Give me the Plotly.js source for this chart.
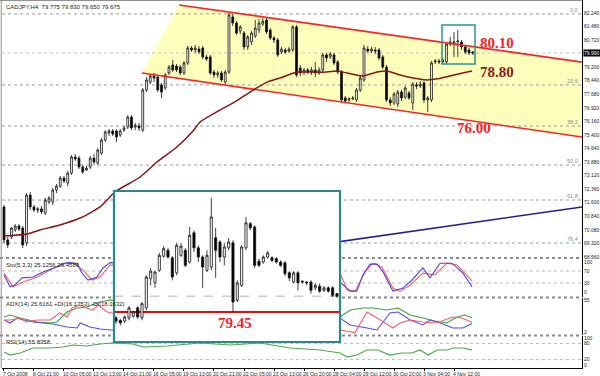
<!DOCTYPE html>
<html><head><meta charset="utf-8">
<script src="https://cdn.plot.ly/plotly-3.0.1.min.js"></script>
<style>html,body{margin:0;padding:0;background:#fff;}#chart{width:600px;height:376px;}</style>
</head><body><div id="chart"></div>
<script>
// ---------------- DATA ----------------
const chartTitle = "CADJPY,H4  79.775 79.830 79.650 79.675";
const barOpen = [71.36,69.51,69.68,70.07,70.29,70.18,69.34,72.03,71.36,71.19,
71.25,71.02,71.64,71.64,72.31,72.53,72.98,72.70,73.26,74.16,
74.10,73.60,73.43,73.60,74.10,73.82,74.38,75.11,75.51,75.62,
75.62,75.39,75.67,75.84,76.40,75.84,75.90,75.67,77.92,78.36,
78.70,78.64,78.20,78.03,78.87,79.32,79.26,79.20,78.87,79.43,
80.27,80.16,80.21,80.27,79.77,79.77,78.92,78.76,78.87,78.36,
78.92,82.01,81.67,81.22,81.11,80.33,80.61,80.94,81.28,81.61,
81.84,81.28,80.83,80.72,80.05,80.16,80.10,80.16,81.45,79.15,
78.92,79.04,78.92,79.04,78.87,79.04,79.88,79.77,79.88,79.49,
78.92,77.47,77.36,77.41,77.36,77.92,78.48,80.21,80.10,80.16,
80.16,79.77,79.20,77.36,77.19,77.13,77.80,77.52,77.75,77.19,
78.20,78.14,78.31,77.36,77.36,79.49,79.54,79.49,79.49,80.49,
80.55,80.61,80.61,80.33,80.16,80.05];
const barHigh = [71.47,69.68,70.24,70.40,70.40,70.29,72.14,72.20,71.47,71.36,
71.41,71.86,71.97,72.42,72.65,73.10,73.10,73.38,74.27,74.33,
74.22,73.71,73.66,74.22,74.33,74.66,75.23,75.67,75.73,75.73,
75.73,75.73,75.90,76.51,76.51,76.07,76.07,78.03,78.64,78.81,
78.87,78.76,78.31,78.87,79.32,79.60,79.37,79.32,79.54,80.38,
80.38,80.44,80.38,80.38,79.88,79.88,79.04,78.98,78.98,79.04,
82.23,82.18,81.78,81.56,81.22,81.00,81.22,81.84,81.90,81.95,
81.95,81.39,80.94,80.83,80.33,80.27,80.33,81.56,81.56,79.32,
79.15,79.15,79.20,79.49,79.20,79.99,79.99,80.05,79.99,79.60,
79.04,77.58,77.52,77.58,78.03,78.70,80.44,80.38,80.33,80.33,
80.27,79.88,79.32,77.52,77.80,77.92,77.92,78.14,77.86,78.36,
78.36,78.42,78.42,77.58,79.54,79.65,79.65,79.71,80.61,80.89,
81.17,81.28,80.72,80.44,80.27,80.10];
const barLow = [69.34,69.06,69.56,69.96,70.01,69.06,69.17,71.19,71.08,71.02,
70.97,70.91,71.53,71.47,72.14,72.42,72.70,72.53,73.15,73.94,
73.49,73.21,73.38,73.49,73.77,73.71,74.27,75.00,75.34,75.34,
75.00,75.28,75.56,75.73,75.67,75.67,75.62,75.56,77.80,78.25,
78.36,77.80,77.47,77.92,78.76,78.92,78.92,78.76,78.76,79.32,
80.05,79.99,79.93,79.65,79.54,78.76,78.59,78.59,78.36,78.25,
78.81,81.50,81.00,81.05,80.16,80.16,80.44,80.83,81.11,81.50,
81.05,80.72,80.55,79.77,79.93,79.93,79.99,80.05,78.64,78.70,
78.76,78.81,78.76,78.64,78.76,78.92,79.49,79.65,79.32,78.81,
77.24,77.19,77.24,77.36,77.24,77.80,78.36,79.99,79.99,79.93,
79.60,79.09,77.24,77.02,77.07,76.96,77.30,77.41,77.36,76.79,
77.97,78.03,77.19,76.68,77.24,79.37,79.37,79.37,79.37,80.38,
79.77,79.77,80.16,79.93,79.88,79.88];
const barClose = [69.51,69.23,70.18,70.29,70.12,69.23,72.03,71.36,71.19,71.25,
71.08,71.75,71.86,72.31,72.53,72.98,72.81,73.26,74.16,74.05,
73.60,73.32,73.54,74.10,73.88,74.55,75.11,75.56,75.62,75.45,
75.28,75.62,75.79,76.40,75.79,75.95,75.79,77.92,78.48,78.70,
78.59,77.92,77.80,78.76,79.20,79.04,79.04,78.87,79.43,80.27,
80.16,80.27,80.05,79.77,79.65,78.87,78.76,78.87,78.48,78.92,
82.12,81.67,81.11,81.45,80.33,80.89,81.11,81.39,81.67,81.78,
81.17,80.83,80.72,79.88,80.21,80.05,80.21,81.45,78.76,78.87,
79.04,78.92,79.04,78.87,79.04,79.88,79.71,79.93,79.43,78.92,
77.36,77.30,77.41,77.47,77.92,78.59,80.27,80.10,80.21,80.10,
79.71,79.20,77.36,77.19,77.69,77.80,77.47,78.03,77.47,78.25,
78.14,78.25,77.36,77.47,79.43,79.54,79.49,79.60,80.49,80.61,
80.61,80.66,80.33,80.05,79.99,79.99];

const maX = [0,6.1,9.6,14.9,20.3,25.6,29.6,36.3,40.8,46.1,50.4,52.3,57.6,61.1,65.6,70.1,73.6,78.1,81.6,86.1,88.8,91.5,95.7,99.5,102.1,105.6,109.1,112.8,115.5,118.9,123.5,124.8];
const maY = [69.73,69.84,70.07,70.35,70.74,71.36,72.20,73.04,73.88,74.72,75.62,76.12,76.79,77.19,77.80,78.36,78.59,78.92,78.92,78.92,78.98,78.87,78.70,78.92,78.98,78.76,78.59,78.48,78.54,78.70,78.92,78.98];

const channelUpperX = [46.7, 154.13];
const channelUpperY = [82.68, 79.48];
const channelLowerX = [36.8, 154.13];
const channelLowerY = [78.87, 75.28];
const trendX = [70, 154.13];
const trendY = [68.83, 71.36];

const fibLevels = [82.18, 78.20, 75.90, 73.71, 71.75, 69.34];
const fibLabels = ["0.0", "23.6", "38.2", "50.0", "61.8", "76.4"];
const priceTicks = [68.56,69.32,70.08,70.84,71.60,72.36,73.12,73.88,74.64,75.40,76.16,76.92,77.68,78.44,79.20,79.96,80.72,81.48,82.24];

const dateTicks = [0,8,16,24,32,40,48,56,64,72,80,88,96,104,112,120];
const dateLabels = ["7 Oct 2008","8 Oct 21:00","10 Oct 05:00","13 Oct 13:00","14 Oct 21:00","16 Oct 05:00","19 Oct 13:00","20 Oct 21:00","22 Oct 05:00","23 Oct 13:00","26 Oct 20:00","28 Oct 04:00","29 Oct 12:00","30 Oct 20:00","3 Nov 04:00","4 Nov 12:00"];

const zoomBoxX = [116.8, 125.6];
const zoomBoxY = [79.37, 81.56];

const levelLabels = ["80.10", "78.80", "76.00"];
const levelLabelX = [126.4, 126.4, 120.3];
const levelLabelY = [80.55, 78.92, 75.79];

// Stochastic
const stochMainX = [0,1.6,2.9,4.8,7.7,10.4,14.1,16.8,19.5,20.8,22.4,24.8,26.4,28.3,89.6,92.3,94.1,95.7,97.6,99.5,101.1,103.7,106.4,108.8,111.7,113.6,116.3,119.5,122.4,124.8];
const stochMainY = [57,17,23,47,50,67,83,98,95,63,40,50,80,98,33,3,3,57,93,93,67,3,13,40,80,47,96,96,63,17];
const stochSigX = [0,2.4,5.1,8.8,12.3,15.7,18.4,21.1,23.5,25.6,28.3,89.6,91.5,93.6,96.3,98.4,100.8,103.7,105.6,108.3,111.7,114.9,118.1,120.8,124.8];
const stochSigY = [63,17,33,50,73,96,98,73,40,50,90,63,7,2,67,96,83,13,2,23,63,57,96,90,37];
// ADX
const adxX = [0,1.6,4.3,8.8,12.3,14.1,16.8,19.5,22.1,25.6,28.3,89.6,92.3,95.7,98.4,102.1,105.1,108.3,111.7,114.9,118.1,120.8,122.9,124.8];
const adxY = [26.8,30.2,25.2,18.6,16.9,18.6,35.1,41.7,43.4,51.7,55.0,26.8,38.4,41.7,41.7,38.4,41.7,30.2,25.2,20.2,16.9,26.8,30.2,25.6];
const plusDiX = [0,1.6,3.5,5.1,7.7,10.4,13.1,16.8,19.5,20.3,22.9,25.6,28.3,89.6,92.3,96.8,99.5,102.9,105.1,108.3,111.7,113.6,116.3,119.7,122.4,124.8];
const plusDiY = [21.9,16.9,25.2,21.9,18.6,16.9,15.2,10.3,8.6,16.9,10.3,7.0,5.3,25.2,13.6,8.6,5.3,33.5,35.1,21.9,13.6,21.9,16.9,8.6,8.6,16.2];
const minusDiX = [0,1.6,4.3,6.1,8.8,12.3,14.9,16.8,18.1,20.3,22.1,23.7,25.1,27.5,28.8,89.6,93.6,96.8,99.5,103.7,105.6,108.3,111.7,115.5,119.5,122.1,124.8];
const minusDiY = [21.9,21.9,25.2,18.6,21.9,21.9,33.5,26.8,41.7,46.7,41.7,38.4,46.7,35.1,33.5,5.3,1.0,35.1,25.2,8.6,16.9,21.9,18.6,16.9,26.8,25.2,18.2];
// RSI
const rsiX = [0,1.6,4.3,7.7,12.3,15.7,18.4,22.1,25.6,29.1,34.4,37.1,43.5,48.8,52.3,60.3,68.3,76.3,84.3,89.6,91.5,94.1,96.8,99.7,102.9,106.1,108.8,110.9,113.1,115.5,118.1,119.7,122.4,124.8];
const rsiY = [48.1,37.0,44.4,63.0,63.0,66.7,74.1,70.4,77.8,81.5,77.8,66.7,70.4,77.8,81.5,74.1,81.5,63.0,55.6,44.4,29.6,37.0,55.6,55.6,37.0,44.4,44.4,55.6,37.0,55.6,55.6,63.0,63.0,55.8];

const stochLabel = "Sto(5,3,3) 25.1256 29.4589";
const adxLabel = "ADX(14) 25.6161 +DI(16.1753) -DI(18.1632)";
const rsiLabel = "RSI(14) 55.8358";

// Inset (zoomed view)
const insetOpen = [79.38,79.35,79.34,79.38,79.40,79.50,79.38,79.50,79.85,79.80,79.95,80.12,80.19,80.10,79.92,80.13,80.19,80.05,80.40,80.22,80.11,79.95,79.99,80.34,80.29,80.11,80.22,80.28,79.59,79.77,80.22,80.51,80.47,80.06,80.05,80.11,80.10,80.09,80.05,80.04,79.92,79.81,79.92,79.82,79.81,79.81,79.74,79.76,79.71,79.74,79.74,79.67];
const insetHigh = [79.40,79.37,79.41,79.52,79.46,79.52,79.57,79.89,79.98,79.95,80.16,80.24,80.22,80.12,80.28,80.28,80.22,80.47,80.43,80.25,80.13,80.19,80.82,80.46,80.31,80.28,80.34,80.31,79.83,80.25,80.59,80.53,80.49,80.09,80.13,80.18,80.12,80.11,80.07,80.06,79.94,79.94,79.94,79.83,79.82,79.83,79.80,79.79,79.76,79.76,79.76,79.68];
const insetLow = [79.31,79.29,79.32,79.35,79.38,79.37,79.35,79.47,79.77,79.74,79.93,80.10,80.09,79.83,79.89,80.11,79.99,80.03,80.17,80.05,79.74,79.93,79.95,79.86,80.05,80.01,80.19,79.45,79.57,79.75,80.19,80.43,79.98,79.99,80.03,80.09,80.05,80.03,79.99,79.88,79.82,79.79,79.71,79.79,79.77,79.67,79.71,79.68,79.69,79.68,79.63,79.62];
const insetClose = [79.34,79.32,79.39,79.50,79.45,79.39,79.55,79.87,79.94,79.93,80.13,80.21,80.11,79.87,80.25,80.24,80.01,80.37,80.22,80.11,79.99,80.13,80.59,80.19,80.11,80.23,80.29,79.57,79.80,80.23,80.52,80.46,80.01,80.01,80.11,80.16,80.07,80.05,80.01,79.91,79.86,79.92,79.80,79.81,79.80,79.71,79.77,79.70,79.74,79.70,79.65,79.64];
const insetSupport = 79.45;
const insetSupportLabel = "79.45";

// ---------------- BUILD ----------------
const X0 = -0.533, X1 = 154.13;
const IX0 = -0.46, IX1 = 51.7, IY0 = 79.09, IY1 = 80.902;
const barIndex = barOpen.map((_, i) => i);
const insetIndex = insetOpen.map((_, i) => i);
const lastClose = barClose[barClose.length - 1];
const insetLast = insetClose[insetClose.length - 1];
const FONT = "Liberation Sans, Arial, sans-serif";
const tiny = {family: FONT, size: 6, color: "#222"};
const axisFont = {family: FONT, size: 5, color: "#222"};
const pY = px => 1 - px / 376;

const candleStyle = {
  increasing:{line:{color:'#111', width:0.8}, fillcolor:'#ffffff'},
  decreasing:{line:{color:'#111', width:0.8}, fillcolor:'#000000'}, whiskerwidth:0, hoverinfo:'skip'};

const data = [];
// trend line
data.push({type:'scatter', mode:'lines', xaxis:'x', yaxis:'y', x:trendX, y:trendY, line:{color:'#20209a', width:1.6}});
// channel lines
data.push({type:'scatter', mode:'lines', xaxis:'x', yaxis:'y', x:channelUpperX, y:channelUpperY, line:{color:'#ff2222', width:1.6}});
data.push({type:'scatter', mode:'lines', xaxis:'x', yaxis:'y', x:channelLowerX, y:channelLowerY, line:{color:'#ff2222', width:1.6}});
// moving average
data.push({type:'scatter', mode:'lines', xaxis:'x', yaxis:'y', x:maX, y:maY, line:{color:'#8b1414', width:1.5, shape:'spline', smoothing:0.6}});
// candles
data.push(Object.assign({type:'candlestick', xaxis:'x', yaxis:'y', x:barIndex, open:barOpen, high:barHigh, low:barLow, close:barClose}, candleStyle));
// stochastic
data.push({type:'scatter', mode:'lines', xaxis:'x2', yaxis:'y2', x:stochSigX, y:stochSigY, line:{color:'#ff5a5a', width:1.1}});
data.push({type:'scatter', mode:'lines', xaxis:'x2', yaxis:'y2', x:stochMainX, y:stochMainY, line:{color:'#4a4ae0', width:1.1}});
// adx
data.push({type:'scatter', mode:'lines', xaxis:'x3', yaxis:'y3', x:adxX, y:adxY, line:{color:'#3ea03e', width:1.1}});
data.push({type:'scatter', mode:'lines', xaxis:'x3', yaxis:'y3', x:plusDiX, y:plusDiY, line:{color:'#5050f0', width:1.1}});
data.push({type:'scatter', mode:'lines', xaxis:'x3', yaxis:'y3', x:minusDiX, y:minusDiY, line:{color:'#ff5a6a', width:1.1}});
// rsi
data.push({type:'scatter', mode:'lines', xaxis:'x4', yaxis:'y4', x:rsiX, y:rsiY, line:{color:'#4ca84c', width:1.2}});
// inset candles
data.push(Object.assign({type:'candlestick', xaxis:'x5', yaxis:'y5', x:insetIndex, open:insetOpen, high:insetHigh, low:insetLow, close:insetClose}, candleStyle));

const xCommon = {range:[X0, X1], showgrid:false, zeroline:false, showticklabels:false, fixedrange:true, domain:[0.00333, 0.97], rangeslider:{visible:false}};
const yCommon = {showgrid:false, zeroline:false, side:'right', showline:true, linecolor:'#000', linewidth:1, ticks:'', tickfont:axisFont, fixedrange:true};

const channelPath = 'M ' + channelLowerX[0] + ',' + channelLowerY[0] + ' L ' + channelUpperX[0] + ',' + channelUpperY[0] +
  ' L ' + channelUpperX[1] + ',' + channelUpperY[1] + ' L ' + channelLowerX[1] + ',' + channelLowerY[1] + ' Z';

const shapes = [
  // panel separators and frame (below, so the inset covers them)
  {type:'line', xref:'paper', yref:'paper', x0:0, x1:0.97, y0:pY(258), y1:pY(258), layer:'below', line:{color:'#8a8a8a', width:2, dash:'dot'}},
  {type:'line', xref:'paper', yref:'paper', x0:0, x1:0.97, y0:pY(297.5), y1:pY(297.5), layer:'below', line:{color:'#8a8a8a', width:2, dash:'dot'}},
  {type:'line', xref:'paper', yref:'paper', x0:0, x1:0.97, y0:pY(335.5), y1:pY(335.5), layer:'below', line:{color:'#8a8a8a', width:2, dash:'dot'}},
  {type:'line', xref:'paper', yref:'paper', x0:0.002, x1:0.002, y0:pY(368), y1:1, layer:'below', line:{color:'#909090', width:1}},
  {type:'line', xref:'paper', yref:'paper', x0:0, x1:0.97, y0:pY(0.5), y1:pY(0.5), layer:'below', line:{color:'#909090', width:1}},
  // channel fill
  {type:'path', xref:'x', yref:'y', path:channelPath, layer:'below', fillcolor:'rgb(255,255,188)', line:{width:0}},
];
fibLevels.forEach(l => shapes.push({type:'line', xref:'x', yref:'y', x0:X0, x1:X1, y0:l, y1:l, layer:'below', line:{color:'#8e9e9e', width:1, dash:'dot'}}));
shapes.push({type:'line', xref:'x', yref:'y', x0:X0, x1:X1, y0:lastClose, y1:lastClose, layer:'below', line:{color:'#c4c4c4', width:1, dash:'dot'}});
shapes.push(
  {type:'line', xref:'x2', yref:'y2', x0:X0, x1:X1, y0:70, y1:70, layer:'below', line:{color:'#b8b8b8', width:1, dash:'dot'}},
  {type:'line', xref:'x2', yref:'y2', x0:X0, x1:X1, y0:30, y1:30, layer:'below', line:{color:'#b8b8b8', width:1, dash:'dot'}},
  {type:'line', xref:'x4', yref:'y4', x0:X0, x1:X1, y0:80, y1:80, layer:'below', line:{color:'#b8b8b8', width:1, dash:'dot'}},
  {type:'line', xref:'x4', yref:'y4', x0:X0, x1:X1, y0:20, y1:20, layer:'below', line:{color:'#b8b8b8', width:1, dash:'dot'}},
  // zoom box around last candles
  {type:'rect', xref:'x', yref:'y', x0:zoomBoxX[0], x1:zoomBoxX[1], y0:zoomBoxY[0], y1:zoomBoxY[1], line:{color:'#2a9494', width:1.5}},
  // inset background + lines (drawn in the inset subplot, above the other panels)
  {type:'rect', xref:'x5', yref:'y5', x0:IX0, x1:IX1, y0:IY0, y1:IY1, layer:'below', fillcolor:'#ffffff', line:{width:0}},
  {type:'line', xref:'x5', yref:'y5', x0:IX0, x1:IX1, y0:insetLast, y1:insetLast, layer:'below', line:{color:'#b0b0b0', width:1, dash:'dash'}},
  {type:'line', xref:'x5', yref:'y5', x0:IX0, x1:IX1, y0:insetSupport, y1:insetSupport, layer:'below', line:{color:'#ff0000', width:1.8}},
  // inset frame
  {type:'rect', xref:'paper', yref:'paper', x0:114/600, x1:340/600, y0:pY(342), y1:pY(191), layer:'above', line:{color:'#248a8a', width:2.2}}
);

const layout = {
  width:600, height:376, margin:{l:0, r:0, t:0, b:0}, paper_bgcolor:'#fff', plot_bgcolor:'rgba(0,0,0,0)', showlegend:false,
  xaxis: Object.assign({}, xCommon, {anchor:'y'}),
  yaxis: Object.assign({}, yCommon, {anchor:'x', domain:[pY(258), 1], range:[68.50, 82.96], tickvals:priceTicks, tickformat:'.3f'}),
  xaxis2: Object.assign({}, xCommon, {anchor:'y2'}),
  yaxis2: Object.assign({}, yCommon, {anchor:'x2', domain:[pY(297), pY(258)], range:[-16.7, 113.3], tickvals:[0,30,70,100]}),
  xaxis3: Object.assign({}, xCommon, {anchor:'y3'}),
  yaxis3: Object.assign({}, yCommon, {anchor:'x3', domain:[pY(335), pY(298)], range:[-2.97, 58.3], tickvals:[2,55]}),
  xaxis4: Object.assign({}, xCommon, {anchor:'y4', tickvals:dateTicks, showline:true, linecolor:'#000', ticks:'outside', ticklen:2, tickcolor:'#000'}),
  yaxis4: Object.assign({}, yCommon, {anchor:'x4', domain:[pY(368), pY(336)], range:[-11.1, 107.4], tickvals:[0,20,80,100]}),
  xaxis5: {anchor:'y5', domain:[114/600, 340/600], range:[IX0, IX1], visible:false, fixedrange:true, rangeslider:{visible:false}},
  yaxis5: {anchor:'x5', domain:[pY(342), pY(191)], range:[IY0, IY1], visible:false, fixedrange:true},
  shapes: shapes,
  annotations: []
};

const A = layout.annotations;
A.push({xref:'paper', yref:'paper', x:0.006, y:pY(2), xanchor:'left', yanchor:'top', text:chartTitle, showarrow:false, font:tiny});
A.push({xref:'paper', yref:'paper', x:0.006, y:pY(260), xanchor:'left', yanchor:'top', text:stochLabel, showarrow:false, font:tiny});
A.push({xref:'paper', yref:'paper', x:0.006, y:pY(299), xanchor:'left', yanchor:'top', text:adxLabel, showarrow:false, font:tiny});
A.push({xref:'paper', yref:'paper', x:0.006, y:pY(337), xanchor:'left', yanchor:'top', text:rsiLabel, showarrow:false, font:tiny});
dateTicks.forEach((t, i) => A.push({xref:'x4', yref:'paper', x:t, y:pY(368.5), xanchor:'left', yanchor:'top', xshift:-3, text:dateLabels[i], showarrow:false, font:axisFont}));
fibLevels.forEach((l, i) => A.push({xref:'paper', yref:'y', x:0.966, y:l, xanchor:'right', yanchor:'bottom', text:fibLabels[i], showarrow:false,
  font:{family:FONT, size:5.5, color:'#7a8a9a'}, yshift:-1}));
const levelColors = ['#ff2020', '#8b1a1a', '#ff2020'];
levelLabels.forEach((t, i) => A.push({xref:'x', yref:'y', x:levelLabelX[i], y:levelLabelY[i], xanchor:'left', yanchor:'middle', text:'<b>'+t+'</b>', showarrow:false,
  font:{family:'Liberation Serif, Times New Roman, serif', size:15, color:levelColors[i]}}));
A.push({xref:'x5', yref:'y5', x:27.5, y:insetSupport, xanchor:'center', yanchor:'top', yshift:-1, text:'<b>'+insetSupportLabel+'</b>', showarrow:false,
  font:{family:'Liberation Serif, Times New Roman, serif', size:15, color:'#ff2020'}});
A.push({xref:'paper', yref:'y', x:0.971, y:lastClose, xanchor:'left', yanchor:'middle', text:lastClose.toFixed(3), showarrow:false,
  bgcolor:'#000', borderpad:0, font:{family:FONT, size:5, color:'#fff'}});

Plotly.newPlot('chart', data, layout, {staticPlot:true, displayModeBar:false});
</script>
</body></html>
